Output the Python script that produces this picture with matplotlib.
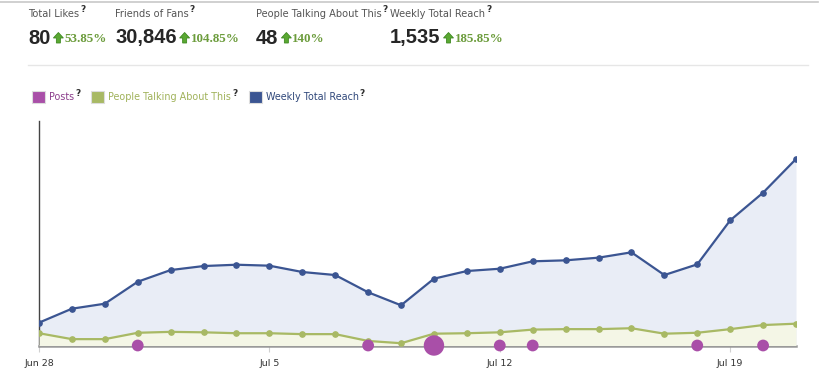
import matplotlib
matplotlib.use('Agg')
import matplotlib.pyplot as plt
from matplotlib.patches import Polygon, Rectangle
import numpy as np
import pandas as pd

# header numbers
head_labels = ['Total Likes', 'Friends of Fans', 'People Talking About This', 'Weekly Total Reach']
head_values = ['80', '30,846', '48', '1,535']
head_changes = ['53.85%', '104.85%', '140%', '185.85%']

# daily values, Jun 28 .. Jul 21
days = pd.date_range('2012-06-28', '2012-07-21')
reach = [188, 303, 344, 525, 621, 654, 665, 657, 605, 580, 438, 331,
         550, 613, 632, 693, 701, 723, 767, 580, 668, 1030, 1258, 1535]
talking = [27, 14, 14, 28, 30, 29, 27, 27, 25, 25, 10, 5,
           26, 27, 29, 35, 36, 36, 38, 26, 28, 36, 45, 48]
post_days = pd.to_datetime(['2012-07-01', '2012-07-08', '2012-07-10', '2012-07-12',
                            '2012-07-13', '2012-07-18', '2012-07-20'])
post_counts = [1, 1, 3, 1, 1, 1, 1]
tick_days = pd.to_datetime(['2012-06-28', '2012-07-05', '2012-07-12', '2012-07-19'])
tick_labels = ['Jun 28', 'Jul 5', 'Jul 12', 'Jul 19']

W, H = 838, 382
BLUE = '#3b5592'
GREEN = '#a8b964'
PINK = '#a94fa8'
UPGREEN = '#6c9c3c'

fig = plt.figure(figsize=(W / 100, H / 100), dpi=100)
fig.patch.set_facecolor('white')
renderer = fig.canvas.get_renderer()


def put(x, y, s, **kw):
    t = fig.text(x / W, 1 - y / H, s, ha='left', va='center', **kw)
    return t.get_window_extent(renderer).x1


def qmark(x, y, color='#333333'):
    return put(x + 1, y - 4, '?', fontsize=6.5, fontweight='bold', color=color)


def up_arrow(x, y):
    # small green arrow, x = left edge, y = centre (pixels from top)
    pts = [(x, y), (x + 5, y - 5.5), (x + 10, y), (x + 7, y), (x + 7, y + 5),
           (x + 3, y + 5), (x + 3, y)]
    pts = [(px / W, 1 - py / H) for px, py in pts]
    fig.patches.append(Polygon(pts, closed=True, transform=fig.transFigure,
                               facecolor='#5aa832', edgecolor='#3f8a22', lw=0.6))
    return x + 10


# top border lines
fig.add_artist(plt.Line2D([0, 818 / W], [1 - 1.5 / H] * 2, color='#c8c8c8', lw=1.2))
fig.add_artist(plt.Line2D([28 / W, 808 / W], [1 - 65 / H] * 2, color='#e6e6e6', lw=1))

# header
head_x = [28, 115, 256, 390]
for hx, lab, val, ch in zip(head_x, head_labels, head_values, head_changes):
    x1 = put(hx, 14, lab, fontsize=7.1, color='#555555')
    qmark(x1, 14)
    x1 = put(hx, 38, val, fontsize=14.5, fontweight='bold', color='#262626',
             family=['Liberation Sans Narrow', 'Liberation Sans'])
    x1 = up_arrow(x1 + 3, 38)
    put(x1 + 1, 39, ch, fontsize=9.4, fontweight='bold', color=UPGREEN, family='Liberation Serif')

# legend
legend_items = [('Posts', PINK, '#8c3f8c'), ('People Talking About This', GREEN, '#a0b25a'),
                ('Weekly Total Reach', BLUE, '#2f477a')]
lx = 32
for name, col, tcol in legend_items:
    fig.patches.append(Rectangle((lx / W, 1 - 103 / H), 13 / W, 12 / H, transform=fig.transFigure,
                                 facecolor=col, edgecolor='#dddddd', lw=0.8))
    x1 = put(lx + 17, 97, name, fontsize=6.9, color=tcol)
    x1 = qmark(x1, 97, color='#333333')
    lx = x1 + 11

# chart
ax = fig.add_axes([39 / W, (H - 345.5) / H, 757 / W, 224.5 / H])
ax.fill_between(days, reach, 0, color='#e9edf6', lw=0, zorder=1)
ax.plot(days, reach, color=BLUE, lw=1.6, marker='o', ms=3.8, zorder=4)
ax.set_ylim(0, 1848)
ax.set_xlim(days[0], days[-1])

ax2 = ax.twinx()
ax2.fill_between(days, talking, 0, color='#f4f6e6', lw=0, zorder=2)
ax2.plot(days, talking, color=GREEN, lw=1.6, marker='o', ms=3.8, zorder=3)
ax2.scatter(post_days, [0] * len(post_days), s=[c * 72 for c in post_counts],
            color=PINK, edgecolor='none', zorder=5, clip_on=False)
ax2.set_ylim(0, 494)
ax2.set_xlim(days[0], days[-1])
ax2.set_yticks([])
for s in ax2.spines.values():
    s.set_visible(False)

ax.set_zorder(1)
ax2.set_zorder(2)
ax.patch.set_visible(False)

for s in ['top', 'right']:
    ax.spines[s].set_visible(False)
ax.spines['left'].set_color('#444444')
ax.spines['left'].set_linewidth(1)
ax.spines['bottom'].set_color('#9a9a9a')
ax.spines['bottom'].set_linewidth(1.8)
ax.set_yticks([])
ax.set_xticks(tick_days)
ax.set_xticklabels(tick_labels, fontsize=6.8, color='#333333')
ax.tick_params(axis='x', length=4, color='#d0d0d0', pad=6)

plt.savefig('out.png', dpi=100)
